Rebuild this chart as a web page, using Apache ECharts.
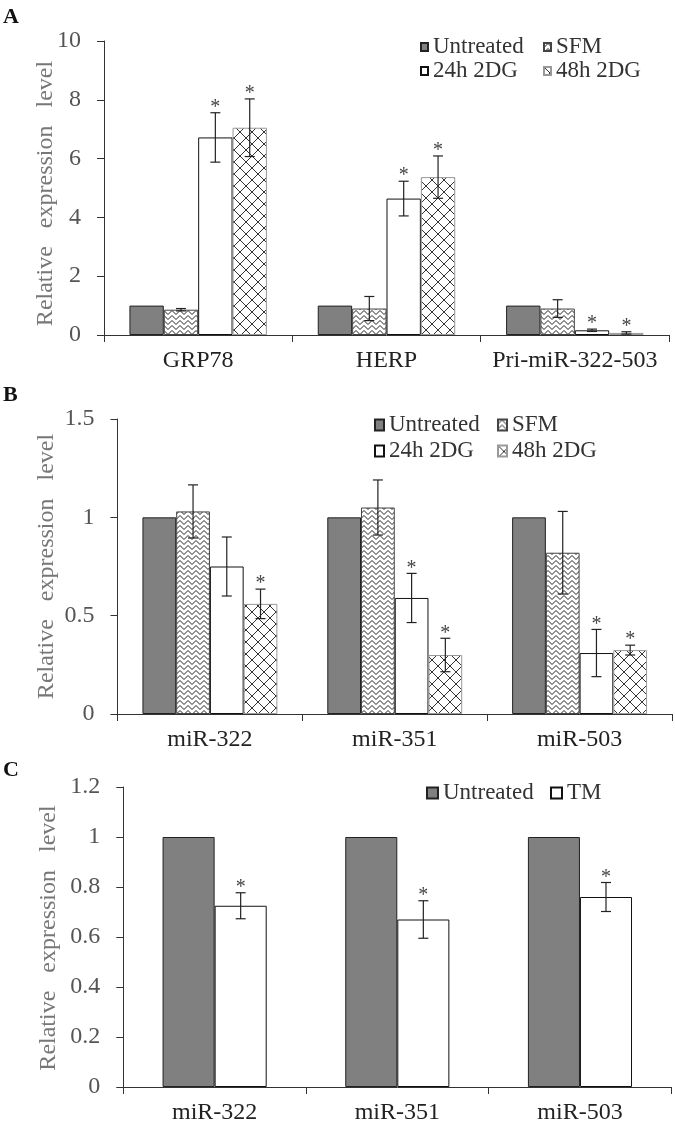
<!DOCTYPE html>
<html><head><meta charset="utf-8">
<script src="https://cdn.jsdelivr.net/npm/echarts@6/dist/echarts.min.js"></script>
<style>html,body{margin:0;padding:0;background:#fff}#c{width:675px;height:1129px}</style>
</head><body><div id="c"></div>
<script>
// ---------- data ----------
const namesA = ['Untreated', 'SFM', '24h 2DG', '48h 2DG'];
const namesC = ['Untreated', 'TM'];

const categoriesA = ['GRP78', 'HERP', 'Pri-miR-322-503'];
const untreatedA = [1.0, 1.0, 1.0];
const sfmA = [0.86, 0.90, 0.90];
const h24A = [6.72, 4.64, 0.16];
const h48A = [7.05, 5.37, 0.07];
const errUntreatedA = [0, 0, 0];
const errSfmA = [0.04, 0.41, 0.30];
const errH24A = [0.84, 0.59, 0.04];
const errH48A = [0.98, 0.72, 0.04];
const starUntreatedA = [0, 0, 0];
const starSfmA = [0, 0, 0];
const starH24A = [1, 1, 1];
const starH48A = [1, 1, 1];

const categoriesB = ['miR-322', 'miR-351', 'miR-503'];
const untreatedB = [1.0, 1.0, 1.0];
const sfmB = [1.03, 1.05, 0.82];
const h24B = [0.75, 0.59, 0.31];
const h48B = [0.56, 0.30, 0.325];
const errUntreatedB = [0, 0, 0];
const errSfmB = [0.135, 0.14, 0.21];
const errH24B = [0.15, 0.125, 0.12];
const errH48B = [0.075, 0.085, 0.025];
const starUntreatedB = [0, 0, 0];
const starSfmB = [0, 0, 0];
const starH24B = [0, 1, 1];
const starH48B = [1, 1, 1];

const categoriesC = ['miR-322', 'miR-351', 'miR-503'];
const untreatedC = [1.0, 1.0, 1.0];
const tmC = [0.725, 0.67, 0.76];
const errUntreatedC = [0, 0, 0];
const errTmC = [0.052, 0.075, 0.058];
const starUntreatedC = [0, 0, 0];
const starTmC = [1, 1, 1];

const yTicksA = { min: 0, max: 10, interval: 2 };
const yTicksB = { min: 0, max: 1.5, interval: 0.5 };
const yTicksC = { min: 0, max: 1.2, interval: 0.2 };

// ---------- styles ----------
const FONT = '"Liberation Serif", "Times New Roman", serif';

function zigzagPattern() {
  const c = document.createElement('canvas');
  c.width = 8; c.height = 5;
  const g = c.getContext('2d');
  g.fillStyle = '#fff'; g.fillRect(0, 0, 8, 5);
  g.strokeStyle = '#222'; g.lineWidth = 1;
  g.beginPath();
  g.moveTo(-1, 5.5); g.lineTo(0, 4.5); g.lineTo(4, 0.5); g.lineTo(8, 4.5); g.lineTo(9, 5.5);
  g.stroke();
  return c;
}
function crossPattern() {
  const s = 12;
  const c = document.createElement('canvas');
  c.width = s; c.height = s;
  const g = c.getContext('2d');
  g.fillStyle = '#fff'; g.fillRect(0, 0, s, s);
  g.strokeStyle = '#333'; g.lineWidth = 1;
  g.beginPath();
  g.moveTo(-1, -1); g.lineTo(s + 1, s + 1);
  g.moveTo(s + 1, -1); g.lineTo(-1, s + 1);
  g.stroke();
  return c;
}
const zig = { image: zigzagPattern(), repeat: 'repeat' };
const cross = { image: crossPattern(), repeat: 'repeat' };

const styles = {
  'Untreated': { color: '#808080', borderColor: '#222', borderWidth: 1 },
  'SFM': { color: zig, borderColor: '#444', borderWidth: 1 },
  '24h 2DG': { color: '#fff', borderColor: '#111', borderWidth: 1 },
  '48h 2DG': { color: cross, borderColor: '#999', borderWidth: 1 },
  'TM': { color: '#fff', borderColor: '#111', borderWidth: 1 }
};

// ---------- builders ----------
const series = [];
function addGroup(gi, names, vals, errs, stars, gap) {
  const n = names.length;
  const gapFrac = parseFloat(gap) / 100;
  names.forEach((nm, k) => {
    series.push({
      type: 'bar', name: nm, data: vals[k], xAxisIndex: gi, yAxisIndex: gi,
      barGap: '0%', barCategoryGap: gap, itemStyle: styles[nm], animation: false,
      emphasis: { disabled: true }, z: 2
    });
  });
  names.forEach((nm, k) => {
    const data = vals[k].map((v, i) => [i, v, errs[k][i], stars[k][i]]);
    series.push({
      type: 'custom', name: 'err_' + gi + '_' + k, xAxisIndex: gi, yAxisIndex: gi,
      data: data, encode: { x: 0, y: 1 }, z: 5, animation: false, silent: true,
      renderItem: function (params, api) {
        const x = api.value(0), v = api.value(1), e = api.value(2), s = api.value(3);
        const band = api.size([1, 0])[0];
        const bw = band * (1 - gapFrac) / n;
        const c = api.coord([x, v]);
        const cx = c[0] + (k - (n - 1) / 2) * bw;
        const children = [];
        const top = api.coord([x, v + e])[1];
        const bot = api.coord([x, v - e])[1];
        const st = { stroke: '#222', lineWidth: 1.2 };
        if (e > 0) {
          children.push({ type: 'line', shape: { x1: cx, y1: top, x2: cx, y2: bot }, style: st });
          children.push({ type: 'line', shape: { x1: cx - 5, y1: top, x2: cx + 5, y2: top }, style: st });
          children.push({ type: 'line', shape: { x1: cx - 5, y1: bot, x2: cx + 5, y2: bot }, style: st });
        }
        if (s) {
          children.push({ type: 'text', style: { text: '*', x: cx, y: top - 5, align: 'center', verticalAlign: 'middle', fontSize: 20, fontFamily: FONT, fill: '#444' } });
        }
        return { type: 'group', children: children };
      }
    });
  });
}

addGroup(0, namesA, [untreatedA, sfmA, h24A, h48A], [errUntreatedA, errSfmA, errH24A, errH48A], [starUntreatedA, starSfmA, starH24A, starH48A], '27%');
addGroup(1, namesA, [untreatedB, sfmB, h24B, h48B], [errUntreatedB, errSfmB, errH24B, errH48B], [starUntreatedB, starSfmB, starH24B, starH48B], '27%');
addGroup(2, namesC, [untreatedC, tmC], [errUntreatedC, errTmC], [starUntreatedC, starTmC], '43%');

const grids = [
  { left: 104, top: 41, width: 565, height: 294 },
  { left: 117.5, top: 419, width: 554.5, height: 295 },
  { left: 123.3, top: 787, width: 548, height: 300 }
];
const cats = [categoriesA, categoriesB, categoriesC];
const yt = [yTicksA, yTicksB, yTicksC];
const nameGaps = [46.5, 59, 62.8];
const namePads = [[0, 11, 0, 0], [0, 0, 0, 0], [0, 2, 0, 0]];

const xAxes = cats.map((c, i) => ({
  type: 'category', gridIndex: i, data: c,
  axisLine: { show: true, lineStyle: { color: '#333', width: 1 } },
  axisTick: { show: true, length: 7, lineStyle: { color: '#333' } },
  axisLabel: { fontSize: 24, color: '#222', fontFamily: FONT, margin: 14, interval: 0 },
  splitLine: { show: false }
}));
const yAxes = yt.map((t, i) => ({
  type: 'value', gridIndex: i, min: t.min, max: t.max, interval: t.interval,
  name: 'Relative   expression   level', nameLocation: 'middle', nameGap: nameGaps[i],
  nameMoveOverlap: false,
  nameTextStyle: { fontSize: 24, color: '#777', fontFamily: FONT, padding: namePads[i] },
  axisLine: { show: true, lineStyle: { color: '#333', width: 1 } },
  axisTick: { show: true, length: 7, lineStyle: { color: '#333' } },
  axisLabel: { fontSize: 24, color: '#555', fontFamily: FONT, margin: 23 },
  splitLine: { show: false }
}));

function leg(name, left, cy, w, h) {
  return {
    data: [name], left: left, top: cy - 12, itemWidth: w, itemHeight: h, padding: 0, itemGap: 0,
    icon: 'rect', selectedMode: false,
    textStyle: { fontSize: 23, color: '#333', fontFamily: FONT, lineHeight: 24 }
  };
}
const legends = [
  leg(namesA[0], 420, 47, 7, 8), leg(namesA[1], 543, 47, 7, 8),
  leg(namesA[2], 420, 71, 7, 8), leg(namesA[3], 543, 71, 7, 8),
  leg(namesA[0], 374, 425, 9, 11), leg(namesA[1], 497, 425, 9, 11),
  leg(namesA[2], 374, 451, 9, 11), leg(namesA[3], 497, 451, 9, 11),
  leg(namesC[0], 426, 793, 11, 11), leg(namesC[1], 550, 793, 11, 11)
];

const panelLabel = (t, x, y) => ({ type: 'text', left: x, top: y, style: { text: t, fontSize: 22, fontWeight: 'bold', fontFamily: FONT, fill: '#111' } });

const chart = echarts.init(document.getElementById('c'), null, { renderer: 'canvas' });
chart.setOption({
  backgroundColor: '#fff',
  animation: false,
  grid: grids,
  xAxis: xAxes,
  yAxis: yAxes,
  legend: legends,
  series: series,
  graphic: [panelLabel('A', 3, 6), panelLabel('B', 3, 384), panelLabel('C', 3, 759)]
});
</script></body></html>
